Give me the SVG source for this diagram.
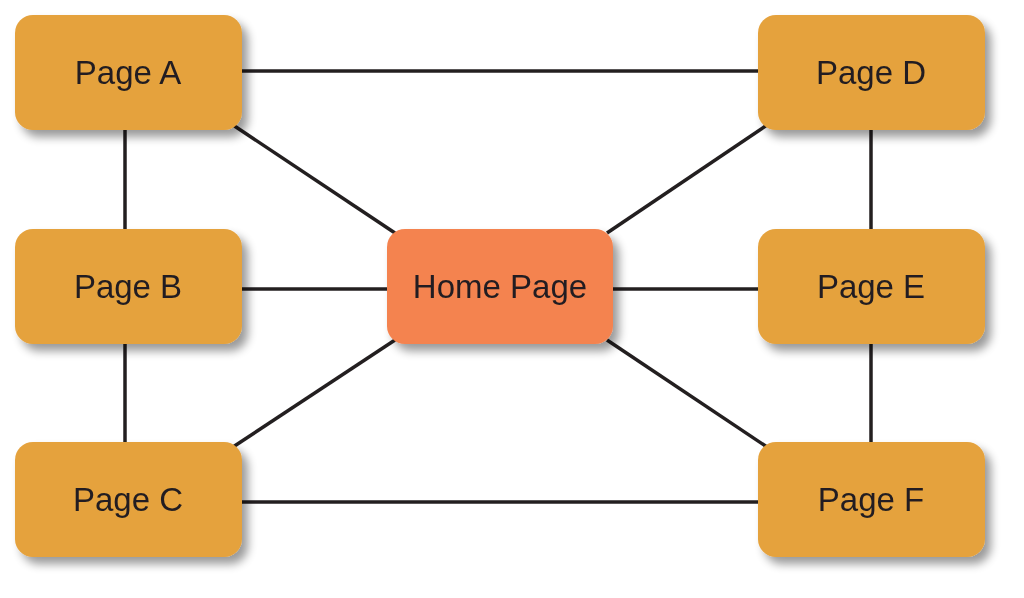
<svg xmlns="http://www.w3.org/2000/svg" width="1024" height="598" viewBox="0 0 1024 598">
<style>
.n{fill:#E5A23D}
.h{fill:#F4834F}
text{font-family:"Liberation Sans Narrow","Liberation Sans",sans-serif;font-size:33px;fill:#231F20;text-anchor:middle;dominant-baseline:central}
.c line{stroke:#231F20;stroke-width:3.5}
</style>
<defs>
<filter id="s" x="-20%" y="-20%" width="150%" height="160%">
<feGaussianBlur in="SourceAlpha" stdDeviation="5"/>
<feOffset dx="6" dy="7"/>
<feComponentTransfer><feFuncA type="linear" slope="0.4"/></feComponentTransfer>
<feMerge><feMergeNode/><feMergeNode in="SourceGraphic"/></feMerge>
</filter>
</defs>
<rect width="1024" height="598" fill="#fff"/>
<g class="c">
<line x1="242" y1="71" x2="758" y2="71"/>
<line x1="125" y1="130" x2="125" y2="229"/>
<line x1="125" y1="343" x2="125" y2="442"/>
<line x1="871" y1="130" x2="871" y2="229"/>
<line x1="871" y1="343" x2="871" y2="442"/>
<line x1="242" y1="289" x2="387" y2="289"/>
<line x1="613" y1="289" x2="758" y2="289"/>
<line x1="242" y1="502" x2="758" y2="502"/>
<line x1="233" y1="125" x2="395" y2="233"/>
<line x1="767" y1="125" x2="607" y2="233"/>
<line x1="233" y1="447" x2="395" y2="340"/>
<line x1="767" y1="447" x2="607" y2="340"/>
</g>
<g id="pageA" filter="url(#s)"><rect class="n" x="15" y="15" width="227" height="115" rx="18"/><text x="128" y="72">Page A</text></g>
<g id="pageB" filter="url(#s)"><rect class="n" x="15" y="229" width="227" height="115" rx="18"/><text x="128" y="286">Page B</text></g>
<g id="pageC" filter="url(#s)"><rect class="n" x="15" y="442" width="227" height="115" rx="18"/><text x="128" y="499">Page C</text></g>
<g id="pageD" filter="url(#s)"><rect class="n" x="758" y="15" width="227" height="115" rx="18"/><text x="871" y="72">Page D</text></g>
<g id="pageE" filter="url(#s)"><rect class="n" x="758" y="229" width="227" height="115" rx="18"/><text x="871" y="286">Page E</text></g>
<g id="pageF" filter="url(#s)"><rect class="n" x="758" y="442" width="227" height="115" rx="18"/><text x="871" y="499">Page F</text></g>
<g id="home" filter="url(#s)"><rect class="h" x="387" y="229" width="226" height="115" rx="18"/><text x="500" y="286">Home Page</text></g>
</svg>
